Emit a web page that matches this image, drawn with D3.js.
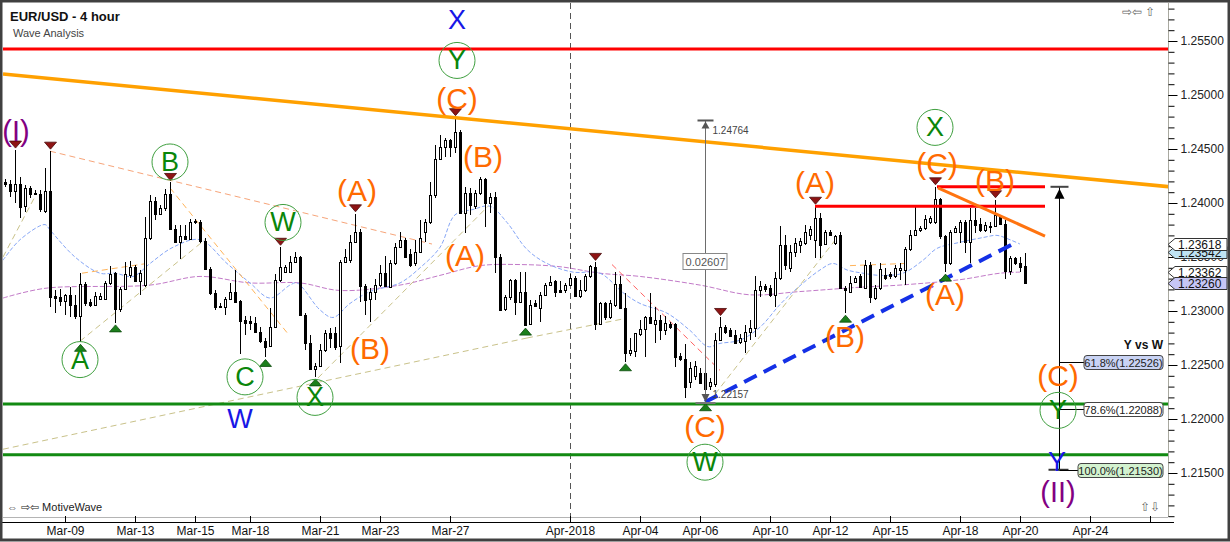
<!DOCTYPE html>
<html><head><meta charset="utf-8">
<script src="https://cdn.jsdelivr.net/npm/d3@7"></script>
<style>html,body{margin:0;padding:0;background:#fff;}svg{display:block;font-family:"Liberation Sans",Arial,sans-serif;}</style>
</head><body><svg id="c" width="1230" height="542"></svg>
<script>
// ---------- DATA ----------
// 4-hour candles [open, high, low, close], index 0 = first candle on the left
const candles = [
[1.2419,1.2422,1.2415,1.2418],[1.2418,1.2421,1.2406,1.2411],[1.2411,1.2449,1.2400,1.2418],[1.2418,1.2424,1.2386,1.2396],
[1.2397,1.2417,1.2392,1.2414],[1.2414,1.2416,1.2405,1.2408],[1.2408,1.2412,1.2407,1.2409],[1.2408,1.2412,1.2392,1.2394],
[1.2393,1.2432,1.2391,1.2411],[1.2411,1.2448,1.2304,1.2313],[1.2314,1.2319,1.2298,1.2312],[1.2313,1.2320,1.2305,1.2309],
[1.2309,1.2316,1.2296,1.2315],[1.2315,1.2322,1.2294,1.2306],[1.2306,1.2315,1.2293,1.2295],[1.2295,1.2335,1.2271,1.2325],
[1.2325,1.2327,1.2305,1.2307],[1.2308,1.2311,1.2304,1.2306],[1.2306,1.2318,1.2305,1.2314],[1.2311,1.2317,1.2310,1.2314],
[1.2311,1.2328,1.2310,1.2326],[1.2326,1.2342,1.2324,1.2334],[1.2335,1.2336,1.2289,1.2302],[1.2302,1.2322,1.2299,1.2320],
[1.2320,1.2345,1.2319,1.2334],[1.2333,1.2346,1.2331,1.2341],[1.2341,1.2343,1.2327,1.2328],[1.2328,1.2338,1.2315,1.2335],
[1.2324,1.2387,1.2322,1.2368],[1.2368,1.2407,1.2366,1.2402],[1.2402,1.2406,1.2384,1.2390],[1.2390,1.2398,1.2389,1.2395],
[1.2395,1.2413,1.2393,1.2408],[1.2408,1.2419,1.2375,1.2376],[1.2376,1.2380,1.2363,1.2364],[1.2364,1.2380,1.2348,1.2369],
[1.2369,1.2380,1.2366,1.2367],[1.2367,1.2385,1.2366,1.2382],[1.2382,1.2385,1.2381,1.2383],[1.2382,1.2384,1.2363,1.2365],
[1.2365,1.2368,1.2338,1.2339],[1.2339,1.2341,1.2315,1.2317],[1.2317,1.2319,1.2301,1.2304],[1.2305,1.2307,1.2303,1.2304],
[1.2304,1.2313,1.2296,1.2311],[1.2311,1.2326,1.2310,1.2318],[1.2318,1.2338,1.2307,1.2308],[1.2309,1.2310,1.2260,1.2291],
[1.2292,1.2295,1.2278,1.2289],[1.2291,1.2295,1.2282,1.2289],[1.2289,1.2294,1.2280,1.2281],[1.2281,1.2285,1.2270,1.2272],
[1.2272,1.2275,1.2257,1.2267],[1.2268,1.2303,1.2267,1.2285],[1.2285,1.2334,1.2284,1.2329],[1.2329,1.2359,1.2327,1.2341],
[1.2336,1.2343,1.2335,1.2341],[1.2336,1.2351,1.2335,1.2345],[1.2345,1.2355,1.2344,1.2350],[1.2350,1.2351,1.2295,1.2296],
[1.2296,1.2298,1.2264,1.2270],[1.2270,1.2278,1.2245,1.2246],[1.2246,1.2252,1.2239,1.2249],[1.2249,1.2269,1.2248,1.2264],
[1.2264,1.2282,1.2262,1.2280],[1.2280,1.2284,1.2266,1.2275],[1.2280,1.2285,1.2264,1.2267],[1.2268,1.2347,1.2252,1.2345],
[1.2345,1.2357,1.2344,1.2350],[1.2347,1.2370,1.2344,1.2364],[1.2364,1.2390,1.2363,1.2373],[1.2373,1.2376,1.2308,1.2323],
[1.2323,1.2325,1.2296,1.2310],[1.2311,1.2321,1.2290,1.2318],[1.2318,1.2330,1.2310,1.2324],[1.2324,1.2343,1.2322,1.2335],
[1.2335,1.2351,1.2322,1.2323],[1.2322,1.2347,1.2321,1.2344],[1.2344,1.2363,1.2343,1.2359],[1.2359,1.2373,1.2358,1.2366],
[1.2366,1.2368,1.2349,1.2350],[1.2353,1.2357,1.2341,1.2343],[1.2344,1.2366,1.2342,1.2355],[1.2355,1.2384,1.2354,1.2368],
[1.2373,1.2385,1.2364,1.2382],[1.2382,1.2419,1.2381,1.2407],[1.2407,1.2454,1.2405,1.2441],[1.2441,1.2463,1.2440,1.2452],
[1.2452,1.2460,1.2443,1.2458],[1.2458,1.2459,1.2443,1.2452],[1.2452,1.2479,1.2446,1.2466],[1.2466,1.2468,1.2390,1.2391],
[1.2391,1.2415,1.2372,1.2409],[1.2409,1.2414,1.2389,1.2398],[1.2397,1.2412,1.2394,1.2409],[1.2409,1.2424,1.2407,1.2422],
[1.2422,1.2423,1.2378,1.2400],[1.2400,1.2409,1.2391,1.2406],[1.2406,1.2410,1.2335,1.2350],[1.2350,1.2353,1.2300,1.2301],
[1.2302,1.2315,1.2300,1.2313],[1.2313,1.2330,1.2310,1.2329],[1.2329,1.2330,1.2296,1.2308],[1.2308,1.2336,1.2307,1.2318],
[1.2318,1.2336,1.2286,1.2287],[1.2288,1.2310,1.2287,1.2306],[1.2307,1.2310,1.2304,1.2305],[1.2303,1.2318,1.2290,1.2315],
[1.2315,1.2326,1.2314,1.2324],[1.2324,1.2332,1.2323,1.2327],[1.2328,1.2329,1.2313,1.2318],[1.2319,1.2328,1.2317,1.2318],
[1.2319,1.2326,1.2317,1.2324],[1.2324,1.2334,1.2323,1.2331],[1.2331,1.2332,1.2313,1.2314],[1.2314,1.2329,1.2312,1.2319],
[1.2319,1.2334,1.2318,1.2332],[1.2332,1.2343,1.2331,1.2342],[1.2341,1.2345,1.2282,1.2288],[1.2288,1.2308,1.2287,1.2307],
[1.2307,1.2308,1.2292,1.2294],[1.2294,1.2310,1.2293,1.2307],[1.2306,1.2336,1.2304,1.2325],[1.2325,1.2332,1.2302,1.2303],
[1.2303,1.2317,1.2253,1.2261],[1.2261,1.2275,1.2258,1.2264],[1.2263,1.2280,1.2257,1.2280],[1.2279,1.2292,1.2277,1.2283],
[1.2283,1.2295,1.2257,1.2294],[1.2294,1.2317,1.2288,1.2289],[1.2288,1.2304,1.2270,1.2292],[1.2292,1.2296,1.2273,1.2282],
[1.2282,1.2295,1.2278,1.2289],[1.2288,1.2290,1.2283,1.2285],[1.2288,1.2289,1.2248,1.2257],[1.2258,1.2261,1.2254,1.2256],
[1.2256,1.2269,1.2219,1.2230],[1.2234,1.2253,1.2229,1.2247],[1.2240,1.2254,1.2236,1.2249],[1.2243,1.2247,1.2232,1.2233],
[1.2243,1.2244,1.2216,1.2228],[1.2231,1.2238,1.2227,1.2234],[1.2232,1.2280,1.2230,1.2273],[1.2273,1.2294,1.2272,1.2285],
[1.2285,1.2287,1.2279,1.2281],[1.2282,1.2284,1.2276,1.2277],[1.2278,1.2282,1.2269,1.2270],[1.2271,1.2279,1.2269,1.2275],
[1.2272,1.2287,1.2261,1.2281],[1.2281,1.2292,1.2273,1.2284],[1.2284,1.2332,1.2276,1.2319],[1.2319,1.2328,1.2313,1.2323],
[1.2323,1.2325,1.2318,1.2320],[1.2321,1.2324,1.2313,1.2315],[1.2315,1.2336,1.2304,1.2331],[1.2331,1.2379,1.2329,1.2361],
[1.2361,1.2370,1.2338,1.2343],[1.2340,1.2361,1.2336,1.2355],[1.2355,1.2368,1.2350,1.2363],[1.2361,1.2368,1.2354,1.2365],
[1.2363,1.2380,1.2361,1.2373],[1.2370,1.2379,1.2366,1.2376],[1.2366,1.2397,1.2349,1.2386],[1.2386,1.2391,1.2349,1.2361],
[1.2362,1.2375,1.2361,1.2373],[1.2373,1.2375,1.2369,1.2370],[1.2363,1.2370,1.2361,1.2369],[1.2370,1.2373,1.2320,1.2321],
[1.2321,1.2323,1.2298,1.2319],[1.2318,1.2332,1.2317,1.2326],[1.2327,1.2332,1.2326,1.2331],[1.2332,1.2334,1.2321,1.2322],
[1.2321,1.2347,1.2320,1.2343],[1.2343,1.2345,1.2307,1.2313],[1.2312,1.2324,1.2310,1.2321],[1.2321,1.2344,1.2319,1.2339],
[1.2333,1.2340,1.2329,1.2331],[1.2334,1.2336,1.2330,1.2332],[1.2332,1.2343,1.2331,1.2340],[1.2338,1.2344,1.2329,1.2340],
[1.2338,1.2359,1.2324,1.2357],[1.2357,1.2375,1.2356,1.2370],[1.2370,1.2396,1.2369,1.2375],[1.2375,1.2379,1.2373,1.2377],
[1.2377,1.2389,1.2375,1.2385],[1.2382,1.2388,1.2381,1.2386],[1.2382,1.2415,1.2381,1.2404],[1.2404,1.2405,1.2367,1.2369],
[1.2369,1.2370,1.2336,1.2344],[1.2344,1.2375,1.2343,1.2373],[1.2373,1.2379,1.2372,1.2377],[1.2373,1.2384,1.2363,1.2382],
[1.2382,1.2384,1.2354,1.2364],[1.2364,1.2395,1.2344,1.2384],[1.2384,1.2395,1.2372,1.2380],[1.2381,1.2386,1.2373,1.2375],
[1.2375,1.2382,1.2373,1.2380],[1.2378,1.2382,1.2372,1.2379],[1.2379,1.2403,1.2378,1.2389],[1.2387,1.2389,1.2380,1.2381],
[1.2381,1.2384,1.2330,1.2337],[1.2337,1.2351,1.2333,1.2349],[1.2349,1.2350,1.2343,1.2344],[1.2344,1.2350,1.2336,1.2341],
[1.2342,1.2354,1.2325,1.2326]
];

// x-axis ticks (candle index) and labels
const xTickIdx    = [12,26,38,49,63,75,89,113,127,139,153,165,177,191,203,217,229];
const xTickLabels = ["Mar-09","Mar-13","Mar-15","Mar-18","Mar-21","Mar-23","Mar-27","Apr-2018","Apr-04","Apr-06","Apr-10","Apr-12","Apr-15","Apr-18","Apr-20","Apr-24",""];
const priceTicks  = [1.215,1.220,1.225,1.230,1.235,1.240,1.245,1.250,1.255];
const monthBreakIdx = 113;

// moving averages: [candle index, price]
const maFast = [[-0.4,1.2347],[3,1.2366],[8,1.2380],[9,1.2375],[14,1.2350],[19,1.2335],[22,1.2335],[25.6,1.2332],[29,1.2344],
 [33.6,1.2359],[39,1.2366],[44.4,1.2344],[49,1.2326],[53,1.2312],[57,1.2324],[58.4,1.2326],[63,1.2301],[65.6,1.2294],
 [69,1.2307],[73,1.2318],[79,1.2326],[83,1.2340],[87,1.2359],[90,1.2389],[93.6,1.2394],[97,1.2397],[100.4,1.2382],
 [104.4,1.2357],[108.4,1.2344],[113.6,1.2336],[119,1.2335],[123.6,1.2317],[127,1.2307],[132.4,1.2298],[137,1.2282],
 [140.6,1.2267],[143,1.2270],[147,1.2273],[151,1.2285],[155,1.2306],[158.4,1.2321],[163,1.2338],[165.6,1.2344],
 [168.4,1.2338],[171.6,1.2335],[175,1.2333],[179.6,1.2335],[183.6,1.2347],[186.4,1.2358],[190.4,1.2363],[195.6,1.2368],
 [198.4,1.2370],[201,1.2366],[203,1.2362]];
const maSlow = [[-0.4,1.2312],[8,1.2321],[29,1.2324],[39,1.2332],[49,1.2326],[59,1.2326],[67,1.2319],[79,1.2324],[87,1.2333],
 [95,1.2342],[103,1.2343],[111,1.2341],[119,1.2335],[127,1.2332],[139,1.2324],[149,1.2315],[159,1.2318],[171,1.2322],
 [179,1.2324],[191,1.2329],[199,1.2335],[203,1.2336]];

// price tags on the right axis
const tagValues = [1.23542, 1.23618, 1.23362, 1.23260];
const tagFills  = ["#bfe3f3", "#ffffff", "#ffffff", "#c6c6f6"];

// horizontal levels (full width)
const levelPrices = [1.25426, 1.2214, 1.2167];
const levelColors = ["#ff0000", "#128a12", "#128a12"];

// thick trend/segment lines [[idx,price],[idx,price]]
const thickLines = [
  {pts:[[-0.4,1.25194],[233.4,1.24148]], c:"#ffa000", w:3.5},
  {pts:[[162,1.2397],[208,1.2397]], c:"#ff0000", w:3},
  {pts:[[186.4,1.2415],[208,1.2415]], c:"#ff0000", w:3},
  {pts:[[186.6,1.2414],[208,1.23694]], c:"#ff7410", w:3}
];
const blueTrend = [[140,1.22157],[202,1.2363]];

// thin dashed trend lines
const thinLines = [
  {pts:[[9,1.2448],[85.4,1.2362]], c:"#f7a57a"},
  {pts:[[-0.4,1.2350],[6,1.2406]], c:"#c9c28a"},
  {pts:[[15,1.2272],[40,1.2366]], c:"#c9c28a"},
  {pts:[[62.6,1.2238],[96.6,1.2397]], c:"#c9c28a"},
  {pts:[[-0.4,1.2172],[104.4,1.2275]], c:"#c9c28a"},
  {pts:[[104.4,1.2275],[124,1.2293]], c:"#c9c28a"},
  {pts:[[142,1.2223],[166.6,1.2369]], c:"#c9c28a"},
  {pts:[[33,1.2414],[56.4,1.2280]], c:"#ffb45a"},
  {pts:[[15.4,1.2335],[28.4,1.2344]], c:"#ffb45a"},
  {pts:[[169,1.2342],[180,1.2344]], c:"#ffb45a"},
  {pts:[[121.4,1.2343],[143,1.2245]], c:"#ff6060"}
];

// swing markers (candle indices)
const highMarks = [2,9,33,55,70,90,118,143,162,186,198];
const lowMarks  = [15,22,52,62,104,124,140,168,188];

// wave labels [text, index, price]
const orangeLabels = [["(C)",90.4,1.2497],["(B)",95.6,1.2443],["(A)",70.4,1.2412],["(A)",92,1.2351],["(B)",73,1.2265],
  ["(C)",140,1.2193],["(A)",162,1.2419],["(B)",168,1.2276],["(C)",186.4,1.2437],["(B)",198,1.2421],["(A)",188,1.2315],["(C)",210.6,1.2240]];
const greenLabels = [["A",15,1.2255],["B",33,1.2438],["C",48,1.2239],["W",55.6,1.2382],["X",62,1.2220],["Y",90.4,1.2532],
  ["X",186,1.2470],["W",140,1.2160],["Y",210.6,1.2208]];
const blueLabels = [["X",90.4,1.2569],["W",47,1.2200],["Y",210.4,1.2160]];
const purpleLabels = [["(I)",2.2,1.2467],["(II)",210.6,1.2132]];

// measurement tools
const measure1 = {idx:140, top:1.24764, bottom:1.22157, diff:"0.02607"};
const measure2 = {idx:210.8, top:1.2415, bottom:1.2153, title:"Y vs W"};
const fibPct   = ["61.8%","78.6%","100.0%"];
const fibVals  = [1.22526, 1.22088, 1.21530];
const fibFills = ["#c9d3f4","#ffffff","#d3f2cf"];

// ---------- DRAW ----------
const svg = d3.select("#c");
const PL=3, PT=3, PR=1168, PB=517;
const x = d3.scaleLinear().domain([0,233]).range([5,1170]);
const y = d3.scaleLinear().domain([1.215,1.255]).range([473,41]);
const line = d3.line().x(d=>x(d[0])).y(d=>y(d[1]));

svg.append("rect").attr("width",1230).attr("height",542).attr("fill","#fff");
svg.append("defs").append("clipPath").attr("id","clip").append("rect")
  .attr("x",PL).attr("y",PT).attr("width",PR-PL).attr("height",PB-PT);
const g = svg.append("g").attr("clip-path","url(#clip)");

// month separator
g.append("line").attr("x1",x(monthBreakIdx)+0.5).attr("x2",x(monthBreakIdx)+0.5).attr("y1",PT).attr("y2",PB)
  .attr("stroke","#555").attr("stroke-dasharray","6,4");

// moving averages
g.append("path").datum(maSlow).attr("d",line.curve(d3.curveCatmullRom)).attr("fill","none")
  .attr("stroke","#c27ac8").attr("stroke-width",1).attr("stroke-dasharray","5,2");
g.append("path").datum(maFast).attr("d",line.curve(d3.curveCatmullRom)).attr("fill","none")
  .attr("stroke","#86a6f6").attr("stroke-width",1).attr("stroke-dasharray","4,2");
line.curve(d3.curveLinear);

// thin dashed trend lines
g.selectAll("path.thin").data(thinLines).join("path").attr("class","thin")
  .attr("d",d=>line(d.pts)).attr("fill","none").attr("stroke",d=>d.c).attr("stroke-width",1).attr("stroke-dasharray","6,4");

// candles
const cd = candles.map((d,i)=>({i,o:d[0],h:d[1],l:d[2],c:d[3]}));
const cx = d=>Math.round(x(d.i));
g.selectAll("line.wick").data(cd).join("line").attr("class","wick")
  .attr("x1",d=>cx(d)+0.5).attr("x2",d=>cx(d)+0.5)
  .attr("y1",d=>Math.round(y(d.h))).attr("y2",d=>Math.round(y(d.l)))
  .attr("stroke","#000").attr("stroke-width",1);
g.selectAll("rect.body").data(cd).join("rect").attr("class","body")
  .attr("x",d=>cx(d)-0.5).attr("width",2)
  .attr("y",d=>Math.round(y(Math.max(d.o,d.c)))+0.5)
  .attr("height",d=>Math.max(1,Math.round(y(Math.min(d.o,d.c)))-Math.round(y(Math.max(d.o,d.c)))))
  .attr("fill",d=>d.c>=d.o?"#fff":"#000").attr("stroke","#000").attr("stroke-width",1);

// horizontal levels
g.selectAll("line.lvl").data(levelPrices).join("line").attr("class","lvl")
  .attr("x1",PL).attr("x2",PR).attr("y1",d=>y(d)).attr("y2",d=>y(d))
  .attr("stroke",(d,i)=>levelColors[i]).attr("stroke-width",3);

// thick lines
g.selectAll("path.thick").data(thickLines).join("path").attr("class","thick")
  .attr("d",d=>line(d.pts)).attr("fill","none").attr("stroke",d=>d.c).attr("stroke-width",d=>d.w);
g.append("path").attr("d",line(blueTrend)).attr("fill","none").attr("stroke","#1430e6")
  .attr("stroke-width",4).attr("stroke-dasharray","14,8");

// swing markers
const hm = highMarks.map(i=>({i,v:candles[i][1]}));
const lm = lowMarks.map(i=>({i,v:candles[i][2]}));
g.selectAll("path.hm").data(hm).join("path").attr("class","hm")
  .attr("d",d=>{const X=x(d.i)+0.5, Y=y(d.v)-2; return `M${X},${Y} L${X-6},${Y-7} L${X+6},${Y-7} Z`;})
  .attr("fill","#8e1414").attr("stroke","#4a0a0a").attr("stroke-width",0.8);
g.selectAll("path.lm").data(lm).join("path").attr("class","lm")
  .attr("d",d=>{const X=x(d.i)+0.5, Y=y(d.v)+2; return `M${X},${Y} L${X-6},${Y+7} L${X+6},${Y+7} Z`;})
  .attr("fill","#1c7f1c").attr("stroke","#0b4a0b").attr("stroke-width",0.8);

// measurement 1 (grey)
{
  const X = Math.round(x(measure1.idx))+0.5, yt=y(measure1.top), yb=y(measure1.bottom);
  g.append("line").attr("x1",X).attr("x2",X).attr("y1",yt).attr("y2",yb).attr("stroke","#6d6d6d");
  g.append("line").attr("x1",X-8).attr("x2",X+8).attr("y1",yt).attr("y2",yt).attr("stroke","#555").attr("stroke-width",2);
  g.append("path").attr("d",`M${X},${yt+1} L${X-4},${yt+8} L${X+4},${yt+8} Z`).attr("fill","#555");
  g.append("line").attr("x1",X-10).attr("x2",X+10).attr("y1",yb+1).attr("y2",yb+1).attr("stroke","#777").attr("stroke-width",2);
  g.append("path").attr("d",`M${X},${yb} L${X-4},${yb-8} L${X+4},${yb-8} Z`).attr("fill","#555");
  g.append("text").attr("x",X+7).attr("y",yt+10).attr("font-size",10).attr("fill","#444").attr("dominant-baseline","central").text(measure1.top.toFixed(5));
  g.append("text").attr("x",X+7).attr("y",yb-8).attr("font-size",10).attr("fill","#444").attr("dominant-baseline","central").text(measure1.bottom.toFixed(5));
  const ym = y((measure1.top+measure1.bottom)/2);
  g.append("rect").attr("x",X-22.5).attr("y",Math.round(ym)-7.5).attr("width",44).attr("height",16).attr("fill","#fff").attr("stroke","#888");
  g.append("text").attr("x",X).attr("y",Math.round(ym)+0.5).attr("text-anchor","middle").attr("dominant-baseline","central")
    .attr("font-size",11).attr("fill","#555").text(measure1.diff);
}

// measurement 2 (Y vs W)
{
  const X = Math.round(x(measure2.idx))+0.5, yt=y(measure2.top), yb=y(measure2.bottom);
  g.append("line").attr("x1",X).attr("x2",X).attr("y1",yt).attr("y2",yb).attr("stroke","#000");
  g.append("line").attr("x1",X-9).attr("x2",X+9).attr("y1",yt).attr("y2",yt).attr("stroke","#444").attr("stroke-width",2);
  g.append("path").attr("d",`M${X},${yt+2} L${X-5},${yt+12} L${X+5},${yt+12} Z`).attr("fill","#000");
  g.append("line").attr("x1",X-11).attr("x2",X+9).attr("y1",yb).attr("y2",yb).attr("stroke","#333").attr("stroke-width",2);
  const bx = 1163;
  fibVals.forEach((v,i)=>{
    const yy = Math.round(y(v))+0.5;
    const txt = `${fibPct[i]}(${v.toFixed(5)})`;
    const w = i===2 ? 85 : 79;
    g.append("line").attr("x1",X).attr("x2",bx-w).attr("y1",yy).attr("y2",yy).attr("stroke","#000");
    g.append("rect").attr("x",bx-w).attr("y",yy-7).attr("width",w).attr("height",14).attr("rx",3)
      .attr("fill",fibFills[i]).attr("stroke","#444");
    g.append("text").attr("x",bx-w/2).attr("y",yy+0.5).attr("text-anchor","middle").attr("dominant-baseline","central")
      .attr("font-size",11).attr("fill","#222").text(txt);
  });
  g.append("text").attr("x",bx).attr("y",y(fibVals[0])-17).attr("text-anchor","end").attr("dominant-baseline","central")
    .attr("font-size",12).attr("font-weight","bold").attr("fill","#111").text(measure2.title);
}

// wave labels
function addLabels(arr, color, size){
  g.selectAll(null).data(arr).join("text")
    .attr("x",d=>x(d[1])).attr("y",d=>y(d[2])).attr("text-anchor","middle").attr("dominant-baseline","central")
    .attr("font-size",size).attr("fill",color).text(d=>d[0]);
}
g.selectAll("circle.wl").data(greenLabels).join("circle").attr("class","wl")
  .attr("cx",d=>x(d[1])).attr("cy",d=>y(d[2])).attr("r",18).attr("fill","none").attr("stroke","#3f9f3f").attr("stroke-width",1);
addLabels(greenLabels,"#0a860a",27);
addLabels(orangeLabels,"#ff6a00",30);
addLabels(blueLabels,"#1717e6",27);
addLabels(purpleLabels,"#820082",29);

// frame
svg.append("line").attr("x1",PL).attr("x2",PR).attr("y1",PB+0.5).attr("y2",PB+0.5).attr("stroke","#b4b4b4");
svg.append("line").attr("x1",PR+0.5).attr("x2",PR+0.5).attr("y1",PT).attr("y2",PB).attr("stroke","#a9a9a0");

// y axis
const yMinor = d3.range(1211,1259).map(v=>v/1000);
const ya1 = svg.append("g").attr("transform",`translate(${PR+0.5},0)`)
  .call(d3.axisRight(y).tickValues(yMinor).tickSize(6).tickFormat(""));
const ya2 = svg.append("g").attr("transform",`translate(${PR+0.5},0)`)
  .call(d3.axisRight(y).tickValues(priceTicks).tickSize(9).tickPadding(3).tickFormat(d3.format(".5f")));
[ya1,ya2].forEach(a=>{a.select(".domain").remove(); a.selectAll("line").attr("stroke","#000");});
ya2.selectAll("text").attr("font-size",12).attr("fill","#222").attr("font-family","'Liberation Sans',Arial,sans-serif");

// price tags
tagValues.forEach((v,i)=>{
  const yy = Math.round(y(v))+0.5;
  svg.append("path").attr("d",`M${PR},${yy} L${PR+7},${yy-6} L1227,${yy-6} L1227,${yy+6} L${PR+7},${yy+6} Z`)
    .attr("fill",tagFills[i]).attr("stroke","#333").attr("stroke-width",1);
  svg.append("text").attr("x",PR+10).attr("y",yy+0.5).attr("dominant-baseline","central").attr("font-size",12)
    .attr("fill","#111").text(v.toFixed(5));
});

// x axis
const xa = svg.append("g").attr("transform",`translate(0,522)`)
  .call(d3.axisBottom(x).tickValues(xTickIdx).tickSizeInner(-6).tickSizeOuter(0).tickPadding(4)
    .tickFormat((d,i)=>xTickLabels[i]));
xa.select(".domain").remove();
xa.selectAll("line").attr("stroke","#000");
xa.selectAll("text").attr("font-size",12).attr("fill","#111").attr("font-family","'Liberation Sans',Arial,sans-serif");
svg.append("line").attr("x1",0).attr("x2",PR+6).attr("y1",522.5).attr("y2",522.5).attr("stroke","#000");

// titles and decorations
svg.append("text").attr("x",10).attr("y",16).attr("dominant-baseline","central").attr("font-size",13)
  .attr("font-weight","bold").attr("fill","#111").text("EUR/USD - 4 hour");
svg.append("text").attr("x",13).attr("y",33).attr("dominant-baseline","central").attr("font-size",11)
  .attr("fill","#444").text("Wave Analysis");
svg.append("text").attr("x",7).attr("y",507).attr("dominant-baseline","central").attr("font-size",11)
  .attr("fill","#222").text("⇔ ⇨⇦ MotiveWave");
svg.append("text").attr("x",1122).attr("y",12).attr("dominant-baseline","central").attr("font-size",12)
  .attr("fill","#666").text("⇨⇦ ⇧");
svg.append("text").attr("x",1140).attr("y",507).attr("dominant-baseline","central").attr("font-size",12)
  .attr("fill","#666").text("⇧⇩");

// outer border
svg.append("rect").attr("x",1).attr("y",1).attr("width",1228).attr("height",539)
  .attr("fill","none").attr("stroke","#404040").attr("stroke-width",3);
</script></body></html>
